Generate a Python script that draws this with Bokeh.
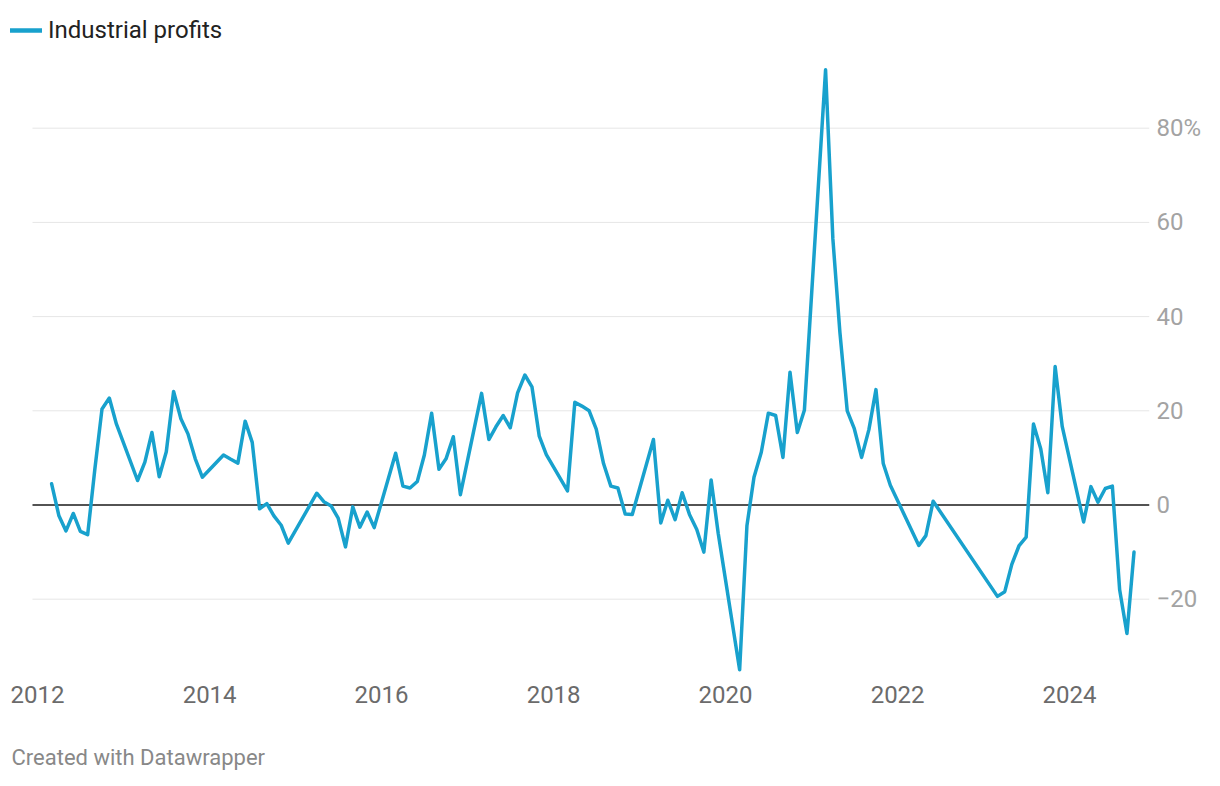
import pandas as pd
from bokeh.plotting import figure
from bokeh.models import (ColumnDataSource, FixedTicker, DatetimeTickFormatter,
                          Legend, LegendItem, Title, Range1d)
from bokeh.embed import file_html
from bokeh.resources import INLINE

# ---------------- data ----------------
months = [
    "2012-03", "2012-04", "2012-05", "2012-06", "2012-07", "2012-08", "2012-09", "2012-10", "2012-11", "2012-12",
    "2013-03", "2013-04", "2013-05", "2013-06", "2013-07", "2013-08", "2013-09", "2013-10", "2013-11", "2013-12",
    "2014-03", "2014-04", "2014-05", "2014-06", "2014-07", "2014-08", "2014-09", "2014-10", "2014-11", "2014-12",
    "2015-04", "2015-05", "2015-06", "2015-07", "2015-08", "2015-09", "2015-10", "2015-11", "2015-12",
    "2016-03", "2016-04", "2016-05", "2016-06", "2016-07", "2016-08", "2016-09", "2016-10", "2016-11", "2016-12",
    "2017-03", "2017-04", "2017-05", "2017-06", "2017-07", "2017-08", "2017-09", "2017-10", "2017-11", "2017-12",
    "2018-03", "2018-04", "2018-05", "2018-06", "2018-07", "2018-08", "2018-09", "2018-10", "2018-11", "2018-12",
    "2019-03", "2019-04", "2019-05", "2019-06", "2019-07", "2019-08", "2019-09", "2019-10", "2019-11", "2019-12",
    "2020-03", "2020-04", "2020-05", "2020-06", "2020-07", "2020-08", "2020-09", "2020-10", "2020-11", "2020-12",
    "2021-03", "2021-04", "2021-05", "2021-06", "2021-07", "2021-08", "2021-09", "2021-10", "2021-11", "2021-12",
    "2022-04", "2022-05", "2022-06",
    "2023-03", "2023-04", "2023-05", "2023-06", "2023-07", "2023-08", "2023-09", "2023-10", "2023-11", "2023-12",
    "2024-03", "2024-04", "2024-05", "2024-06", "2024-07", "2024-08", "2024-09", "2024-10",
]
profits = [
    4.5, -2.3, -5.5, -1.8, -5.6, -6.3, 7.8, 20.4, 22.7, 17.2,
    5.2, 9.1, 15.4, 6.0, 11.3, 24.1, 18.3, 15.1, 9.8, 5.9,
    10.6, 9.7, 8.9, 17.8, 13.3, -0.8, 0.3, -2.3, -4.3, -8.1,
    2.5, 0.7, -0.2, -2.8, -8.9, -0.4, -4.7, -1.5, -4.8,
    11.0, 4.0, 3.6, 5.0, 10.6, 19.5, 7.6, 9.8, 14.5, 2.2,
    23.7, 13.9, 16.6, 19.0, 16.4, 23.8, 27.6, 25.1, 14.6, 10.7,
    3.0, 21.8, 21.0, 20.0, 16.1, 8.8, 4.0, 3.6, -1.9, -2.0,
    13.9, -3.8, 1.0, -3.1, 2.6, -2.0, -5.2, -10.0, 5.3, -6.0,
    -35.0, -4.4, 5.9, 11.2, 19.5, 19.0, 10.1, 28.2, 15.4, 20.1,
    92.4, 56.5, 36.6, 20.0, 16.2, 10.1, 16.0, 24.5, 8.8, 4.2,
    -8.6, -6.5, 0.8,
    -19.4, -18.4, -12.6, -8.6, -6.8, 17.2, 11.9, 2.6, 29.4, 16.7,
    -3.6, 3.9, 0.6, 3.5, 4.0, -18.0, -27.3, -10.0,
]
year_ticks = [2012, 2014, 2016, 2018, 2020, 2022, 2024]
y_ticks = [-20, 0, 20, 40, 60, 80]
y_tick_labels = ["\u221220", "0", "20", "40", "60", "80%"]
series_name = "Industrial profits"
credit = "Created with Datawrapper"

# ---------------- layout constants (canvas px) ----------------
W, H = 1204, 770
FL, FR, FT, FB = 10, 1149, 16, 675      # frame box
GRID_LEFT = 32                          # where grid lines start
FONT = "Roboto"
BLUE = "#18a1cd"

dates = pd.to_datetime(months, format="%Y-%m")
src = ColumnDataSource(dict(date=dates, value=profits))

t0 = pd.Timestamp("2012-01-01")
t1 = pd.Timestamp("2024-01-01")
X0_PX = 37.0                            # canvas x of 2012-01-01
px_per_day = 1032.0 / (t1 - t0).days
def x_at(px):
    return t0 + pd.Timedelta(days=(px - X0_PX) / px_per_day)

ZERO_PX = 504.5
px_per_unit = (ZERO_PX - 127.7) / 80.0
def y_at(py):
    return (ZERO_PX - py) / px_per_unit

x_start, x_end, x_grid = x_at(FL), x_at(FR), x_at(GRID_LEFT)
y_top, y_bot = y_at(FT), y_at(FB)

p = figure(width=W, height=H, x_axis_type="datetime", y_axis_location="right",
           x_range=Range1d(x_start, x_end), y_range=Range1d(y_bot, y_top),
           output_backend="svg", toolbar_location=None,
           min_border_left=FL, min_border_right=W - FR,
           min_border_top=FT, min_border_bottom=H - FB)
p.outline_line_color = None
p.background_fill_color = "white"
p.border_fill_color = "white"
p.xgrid.grid_line_color = None
p.ygrid.grid_line_color = None

# horizontal grid lines (from GRID_LEFT to right edge) and zero line
grid_vals = [v for v in y_ticks if v != 0]
p.segment(x0=[x_grid] * len(grid_vals), x1=[x_end] * len(grid_vals),
          y0=grid_vals, y1=grid_vals, line_color="#e6e6e6", line_width=1)
p.segment(x0=[x_grid], x1=[x_end], y0=[0], y1=[0], line_color="#1a1a1a", line_width=1.7)

# series
r = p.line(x="date", y="value", source=src, line_color=BLUE, line_width=3.5,
           line_join="round", line_cap="round")
# legend swatch renderer (a single undefined point: draws nothing in the plot)
sw = p.line(x=[x_start], y=[float("nan")], line_color=BLUE, line_width=4.5,
            line_cap="round")

legend = Legend(items=[LegendItem(label=series_name, renderers=[sw])],
                location="top_left", margin=0, padding=0, spacing=0,
                glyph_width=32, glyph_height=28, label_height=28,
                label_standoff=6, border_line_alpha=0, background_fill_alpha=0,
                label_text_font=FONT, label_text_font_size="24px",
                label_text_color="#222222", label_text_baseline="middle")
p.add_layout(legend)

# x axis
xa = p.xaxis[0]
xa.ticker = FixedTicker(ticks=[pd.Timestamp(f"{y}-01-01").value / 1e6 for y in year_ticks])
xa.formatter = DatetimeTickFormatter(years="%Y", months="%Y", days="%Y", hours="%Y",
                                     minutes="%Y", seconds="%Y", milliseconds="%Y",
                                     microseconds="%Y", hourmin="%Y", minsec="%Y")
xa.axis_line_color = None
xa.major_tick_line_color = None
xa.minor_tick_line_color = None
xa.major_tick_out = 0
xa.major_label_standoff = 10
xa.major_label_text_font = FONT
xa.major_label_text_font_size = "24px"
xa.major_label_text_color = "#6b6b6b"
# blank axis label used only as vertical spacing before the credit line
xa.axis_label = " "
xa.axis_label_standoff = 9
xa.axis_label_text_font = FONT
xa.axis_label_text_font_size = "22px"
xa.axis_label_text_alpha = 0

# y axis (right)
ya = p.yaxis[0]
ya.ticker = FixedTicker(ticks=y_ticks)
ya.major_label_overrides = {t: s for t, s in zip(y_ticks, y_tick_labels)}
ya.axis_line_color = None
ya.major_tick_line_color = None
ya.minor_tick_line_color = None
ya.major_tick_out = 0
ya.major_label_standoff = 7
ya.major_label_text_font = FONT
ya.major_label_text_font_size = "24px"
ya.major_label_text_color = "#a3a3a3"

# credit line below the x axis
p.add_layout(Title(text=credit, align="left", offset=1, standoff=0,
                   text_font=FONT, text_font_size="22px", text_font_style="normal",
                   text_color="#888888"), "below")

open("out.html", "w").write(file_html(p, INLINE))
